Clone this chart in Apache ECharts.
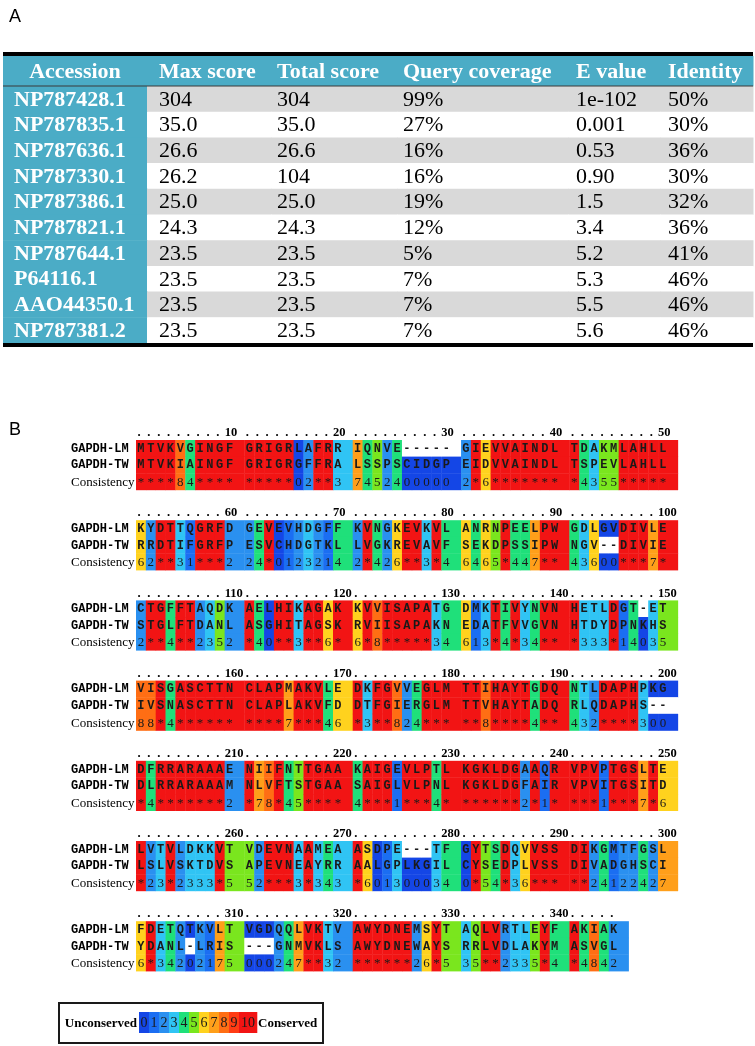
<!DOCTYPE html>
<html>
<head>
<meta charset="utf-8">
<script src="https://cdn.jsdelivr.net/npm/echarts@6.0.0/dist/echarts.min.js"></script>
<style>
html, body { margin: 0; padding: 0; background: #fff; }
#main { width: 755px; height: 1046px; }
</style>
</head>
<body>
<div id="main"></div>
<script>
// ================= DATA =================
const panelLabels = ['A', 'B'];

const tableHeaders = ['Accession', 'Max score', 'Total score', 'Query coverage', 'E value', 'Identity'];
const accessions = ['NP787428.1', 'NP787835.1', 'NP787636.1', 'NP787330.1', 'NP787386.1',
                    'NP787821.1', 'NP787644.1', 'P64116.1', 'AAO44350.1', 'NP787381.2'];
const maxScores = ['304', '35.0', '26.6', '26.2', '25.0', '24.3', '23.5', '23.5', '23.5', '23.5'];
const totalScores = ['304', '35.0', '26.6', '104', '25.0', '24.3', '23.5', '23.5', '23.5', '23.5'];
const queryCoverages = ['99%', '27%', '16%', '16%', '19%', '12%', '5%', '7%', '7%', '7%'];
const eValues = ['1e-102', '0.001', '0.53', '0.90', '1.5', '3.4', '5.2', '5.3', '5.5', '5.6'];
const identities = ['50%', '30%', '36%', '30%', '32%', '36%', '41%', '46%', '46%', '46%'];

const seqNames = ['GAPDH-LM', 'GAPDH-TW', 'Consistency'];

// sequences in groups of ten residues
const lmGroups = [
  'MTVKVGINGF', 'GRIGRLAFRR', 'IQNVE-----', 'GIEVVAINDL', 'TDAKMLAHLL',
  'KYDTTQGRFD', 'GEVEVHDGFF', 'KVNGKEVKVL', 'ANRNPEELPW', 'GDLGVDIVLE',
  'CTGFFTAQDK', 'AELHIKAGAK', 'KVVISAPATG', 'DMKTIVYNVN', 'HETLDGT-ET',
  'VISGASCTTN', 'CLAPMAKVLE', 'DKFGVVEGLM', 'TTIHAYTGDQ', 'NTLDAPHPKG',
  'DFRRARAAAE', 'NIIFNTTGAA', 'KAIGEVLPTL', 'KGKLDGAAQR', 'VPVPTGSLTE',
  'LVTVLDKKVT', 'VDEVNAAMEA', 'ASDPE---TF', 'GYTSDQVVSS', 'DIKGMTFGSL',
  'FDETQTKVLT', 'VGDQQLVKTV', 'AWYDNEMSYT', 'AQLVRTLEYF', 'AKIAK'
];
const twGroups = [
  'MTVKIAINGF', 'GRIGRGFFRA', 'LSSPSCIDGP', 'EIDVVAINDL', 'TSPEVLAHLL',
  'RRDTIFGRFP', 'ESVCHDGTKL', 'LVGKREVAVF', 'SEKDPSSIPW', 'NGV--DIVIE',
  'STGLFTDANL', 'ASGHITAGSK', 'RVIISAPAKN', 'EDATFVVGVN', 'HTDYDPNKHS',
  'IVSNASCTTN', 'CLAPLAKVFD', 'DTFGIERGLM', 'TTVHAYTADQ', 'RLQDAPHS--',
  'DLRRARAAAM', 'NLVFTSTGAA', 'SAIGLVLPNL', 'KGKLDGFAIR', 'VPVITGSITD',
  'LSLVSKTDVS', 'APEVNEAYRR', 'AALGPLKGIL', 'CYSEDPLVSS', 'DIVADGHSCI',
  'YDANL-LRIS', '---GNMVKLS', 'AWYDNEWAYS', 'RRLVDLAKYM', 'ASVGL'
];
const consGroups = [
  '****84****', '*****02**3', '7452400000', '2*6*******', '*4355*****',
  '62**31***2', '24*0123214', '2*426**3*4', '6465*447**', '43600***7*',
  '2**4**2352', '*40**3**6*', '6*8*****34', '613*4*34**', '*333*14035',
  '88*4******', '****7***46', '*3**824***', '**8****4**', '432****300',
  '*4*******2', '*78*45****', '4***1***4*', '******2*1*', '***1***7*6',
  '*23*2333*5', '52***3*343', '*601300034', '0*54*36***', '**24122427',
  '6*34202175', '000247**32', '******26*5', '35**2335*4', '*4842'
];

const legendScores = ['0', '1', '2', '3', '4', '5', '6', '7', '8', '9', '10'];
const legendEnds = ['Unconserved', 'Conserved'];

// ================= STYLE / LAYOUT =================
const SCORE_COLORS = ['#1446e6', '#1b6ef2', '#2a90f0', '#30c4f4', '#1fe07a', '#7ae61e',
                      '#ffd21e', '#ff9f1a', '#ff6e14', '#ff3c14', '#f21414'];
const TEAL = '#4bacc6';
const GRAY = '#d9d9d9';
const SERIF = '"Liberation Serif", "Times New Roman", serif';
const MONO = '"Liberation Mono", "Courier New", monospace';
const SANS = '"Liberation Sans", Arial, sans-serif';

const TABLE_COL_EDGES = [0, 144, 268, 394, 565, 657, 750];
const TABLE_TEXT_X = [11, 156, 274, 400, 573, 665];
const HEADER_ROWS = 30 / 25.7;
const RULE_ROWS = 4 / 25.7;

const GROUP_LEN = 10, GROUPS_PER_BLOCK = 5;
const ROW_PX = 16.6;
const BLOCK_TOP0 = 20 / ROW_PX;
const BLOCK_STEP = 80.2 / ROW_PX;
const LABEL_COL = (71 - 136) / 9.85;
const RULER_OFFSET = -0.42;

// ================= BUILD DATA ITEMS =================
const tableCols = [accessions, maxScores, totalScores, queryCoverages, eValues, identities];
const tableCells = [], tableTexts = [];
for (let c = 0; c < tableHeaders.length; c++) {
  tableCells.push([c, -1]); tableTexts.push(tableHeaders[c]);
}
for (let r = 0; r < accessions.length; r++) {
  for (let c = 0; c < tableCols.length; c++) {
    tableCells.push([c, r]); tableTexts.push(tableCols[c][r]);
  }
}

const alignCells = [], alignMeta = [];
const rulerItems = [], rulerTexts = [];
const labelItems = [], labelTexts = [];
const rowStrings = [lmGroups, twGroups, consGroups];
const nBlocks = Math.ceil(lmGroups.length / GROUPS_PER_BLOCK);
for (let G = 0; G < lmGroups.length; G++) {
  const b = Math.floor(G / GROUPS_PER_BLOCK), g = G % GROUPS_PER_BLOCK;
  const len = lmGroups[G].length;
  for (let j = 0; j < len; j++) {
    const col = g * (GROUP_LEN + 1) + j;
    const w = (j === len - 1) ? 2 : 1;
    const sc = consGroups[G][j] === '*' ? 10 : parseInt(consGroups[G][j], 10);
    for (let r = 0; r < 3; r++) {
      const ch = rowStrings[r][G][j];
      alignCells.push([col, BLOCK_TOP0 + b * BLOCK_STEP + r, w]);
      alignMeta.push({ ch: ch, score: sc, gap: ch === '-', row: r });
    }
    const pos = G * GROUP_LEN + j + 1;
    const yR = BLOCK_TOP0 + b * BLOCK_STEP + RULER_OFFSET;
    if (pos % 10 === 0) {
      rulerItems.push([col, yR, 1]); rulerTexts.push(String(pos));
    } else {
      rulerItems.push([col, yR, 0]); rulerTexts.push('.');
    }
  }
}
for (let b = 0; b < nBlocks; b++) {
  for (let r = 0; r < 3; r++) {
    labelItems.push([LABEL_COL, BLOCK_TOP0 + b * BLOCK_STEP + r + 0.5]);
    labelTexts.push(seqNames[r]);
  }
}

const legendItems = legendScores.map((s, i) => [i, 9, i === legendScores.length - 1 ? 1.8 : 1]);
const legendEndItems = [[-0.2, 20], [11.9, 20]];

// ================= CHART =================
const chart = echarts.init(document.getElementById('main'));

const option = {
  animation: false,
  backgroundColor: '#ffffff',
  title: [
    { text: panelLabels[0], left: 4, top: 3, textStyle: { fontFamily: SANS, fontSize: 18, fontWeight: 'normal', color: '#000' } },
    { text: panelLabels[1], left: 4, top: 416, textStyle: { fontFamily: SANS, fontSize: 18, fontWeight: 'normal', color: '#000' } }
  ],
  grid: [
    { left: 3, top: 52, width: 750, height: 295, show: false },
    { left: 136, top: 420, width: 55 * 9.85, height: 560, show: false },
    { left: 59, top: 1003, width: 264, height: 40, show: true, borderColor: '#1a1a1a', borderWidth: 2, backgroundColor: '#fff' }
  ],
  xAxis: [
    { gridIndex: 0, type: 'value', min: 0, max: 750, show: false },
    { gridIndex: 1, type: 'value', min: 0, max: 55, show: false },
    { gridIndex: 2, type: 'value', min: -8, max: 18.4, show: false }
  ],
  yAxis: [
    { gridIndex: 0, type: 'value', min: -HEADER_ROWS - RULE_ROWS, max: 10 + RULE_ROWS, inverse: true, show: false },
    { gridIndex: 1, type: 'value', min: 0, max: 560 / ROW_PX, inverse: true, show: false },
    { gridIndex: 2, type: 'value', min: 0, max: 40, inverse: true, show: false }
  ],
  series: [
    {
      type: 'custom', xAxisIndex: 0, yAxisIndex: 0, clip: false, silent: true,
      data: tableCells,
      renderItem: function (params, api) {
        const c = api.value(0), r = api.value(1);
        const y0 = r < 0 ? -HEADER_ROWS : r, y1 = r < 0 ? 0 : r + 1;
        const pA = api.coord([TABLE_COL_EDGES[c], y0]);
        const pB = api.coord([TABLE_COL_EDGES[c + 1], y1]);
        const isHead = r < 0, isAcc = c === 0;
        const fill = (isHead || isAcc) ? TEAL : (r % 2 === 0 ? GRAY : '#ffffff');
        let tx;
        if (isHead && isAcc) tx = api.coord([(TABLE_COL_EDGES[0] + TABLE_COL_EDGES[1]) / 2, 0])[0];
        else tx = api.coord([TABLE_TEXT_X[c], 0])[0];
        return {
          type: 'group',
          children: [
            { type: 'rect', shape: { x: pA[0], y: pA[1], width: pB[0] - pA[0] + 0.5, height: pB[1] - pA[1] + 0.5 }, style: { fill: fill } },
            { type: 'text', x: tx, y: (pA[1] + pB[1]) / 2 + 1,
              style: { text: tableTexts[params.dataIndex], fill: (isHead || isAcc) ? '#ffffff' : '#000000',
                       font: ((isHead || isAcc) ? 'bold ' : '') + '22px ' + SERIF,
                       align: (isHead && isAcc) ? 'center' : 'left', verticalAlign: 'middle' } }
          ]
        };
      }
    },
    {
      type: 'custom', xAxisIndex: 0, yAxisIndex: 0, clip: false, silent: true,
      data: [[0, -HEADER_ROWS - RULE_ROWS, -HEADER_ROWS], [0, 10, 10 + RULE_ROWS], [1, -0.02, 0.02]],
      renderItem: function (params, api) {
        const pA = api.coord([0, api.value(1)]);
        const pB = api.coord([750, api.value(2)]);
        const thin = api.value(0) === 1;
        return { type: 'rect', shape: { x: pA[0], y: pA[1], width: pB[0] - pA[0], height: thin ? 1 : pB[1] - pA[1] },
                 style: { fill: thin ? '#3a3a3a' : '#000000' } };
      }
    },
    {
      type: 'custom', xAxisIndex: 1, yAxisIndex: 1, clip: false, silent: true,
      data: alignCells,
      renderItem: function (params, api) {
        const m = alignMeta[params.dataIndex];
        const col = api.value(0), y = api.value(1), w = api.value(2);
        const pA = api.coord([col, y]);
        const pB = api.coord([col + w, y + 1]);
        const pC = api.coord([col + 0.5, y + 0.5]);
        const fill = m.gap ? '#ffffff' : SCORE_COLORS[m.score];
        const isCons = m.row === 2;
        return {
          type: 'group',
          children: [
            { type: 'rect', shape: { x: pA[0], y: pA[1], width: pB[0] - pA[0] + 0.4, height: pB[1] - pA[1] + 0.4 }, style: { fill: fill } },
            { type: 'text', x: pC[0], y: pC[1] + (isCons ? 1 : 0.5),
              style: { text: m.ch, fill: '#1a1a1a',
                       font: isCons ? '13px ' + SERIF : 'bold 12px ' + MONO,
                       align: 'center', verticalAlign: 'middle' } }
          ]
        };
      }
    },
    {
      type: 'custom', xAxisIndex: 1, yAxisIndex: 1, clip: false, silent: true,
      data: rulerItems,
      renderItem: function (params, api) {
        const isNum = api.value(2) === 1;
        const p = api.coord([api.value(0), api.value(1)]);
        return { type: 'text', x: p[0] + (isNum ? 0 : 1.5), y: p[1],
                 style: { text: rulerTexts[params.dataIndex], fill: '#000',
                          font: 'bold 12.5px ' + SERIF, align: 'left', verticalAlign: 'middle' } };
      }
    },
    {
      type: 'custom', xAxisIndex: 1, yAxisIndex: 1, clip: false, silent: true,
      data: labelItems,
      renderItem: function (params, api) {
        const p = api.coord([api.value(0), api.value(1)]);
        const isCons = params.dataIndex % 3 === 2;
        return { type: 'text', x: p[0], y: p[1] + (isCons ? 1 : 0.5),
                 style: { text: labelTexts[params.dataIndex], fill: '#000',
                          font: isCons ? '13px ' + SERIF : 'bold 12px ' + MONO, align: 'left', verticalAlign: 'middle' } };
      }
    },
    {
      type: 'custom', xAxisIndex: 2, yAxisIndex: 2, clip: false, silent: true,
      data: legendItems,
      renderItem: function (params, api) {
        const i = api.value(0), w = api.value(2);
        const pA = api.coord([i, api.value(1)]);
        const pB = api.coord([i + w, 30]);
        return {
          type: 'group',
          children: [
            { type: 'rect', shape: { x: pA[0], y: pA[1], width: pB[0] - pA[0] + 0.3, height: pB[1] - pA[1] }, style: { fill: SCORE_COLORS[i] } },
            { type: 'text', x: (pA[0] + pB[0]) / 2, y: (pA[1] + pB[1]) / 2 + 1,
              style: { text: legendScores[params.dataIndex], fill: '#1a1a1a', font: '14px ' + SERIF, align: 'center', verticalAlign: 'middle' } }
          ]
        };
      }
    },
    {
      type: 'custom', xAxisIndex: 2, yAxisIndex: 2, clip: false, silent: true,
      data: legendEndItems,
      renderItem: function (params, api) {
        const p = api.coord([api.value(0), api.value(1)]);
        return { type: 'text', x: p[0], y: p[1] + 1,
                 style: { text: legendEnds[params.dataIndex], fill: '#000', font: 'bold 13px ' + SERIF,
                          align: params.dataIndex === 0 ? 'right' : 'left', verticalAlign: 'middle' } };
      }
    }
  ]
};
chart.setOption(option);
</script>
</body>
</html>
